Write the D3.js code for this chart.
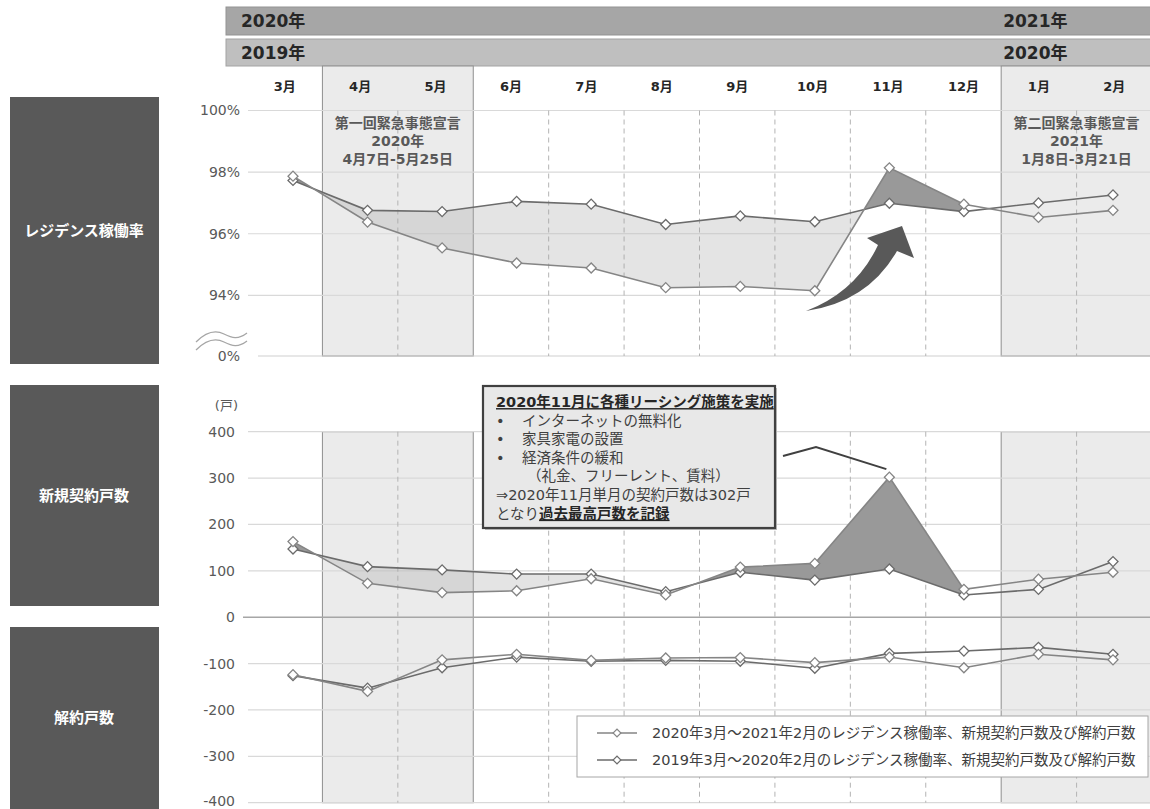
<!DOCTYPE html>
<html><head><meta charset="utf-8">
<script src="https://cdn.jsdelivr.net/npm/d3@7"></script>
<style>
html,body{margin:0;padding:0;background:#fff;}
svg{display:block;}
</style></head>
<body>
<script>
// ---------- DATA ----------
const months = ["3月","4月","5月","6月","7月","8月","9月","10月","11月","12月","1月","2月"];
const occ2020 = [97.87, 96.38, 95.54, 95.05, 94.89, 94.25, 94.29, 94.15, 98.14, 96.96, 96.53, 96.76];
const occ2019 = [97.73, 96.76, 96.72, 97.05, 96.96, 96.30, 96.58, 96.39, 96.99, 96.72, 97.00, 97.26];
const new2020 = [163, 73, 53, 57, 83, 48, 108, 116, 302, 60, 82, 97];
const new2019 = [147, 109, 102, 93, 93, 55, 97, 80, 104, 48, 60, 120];
const cancel2020 = [-124, -160, -92, -80, -93, -88, -87, -98, -86, -109, -80, -92];
const cancel2019 = [-126, -153, -109, -86, -95, -93, -95, -110, -78, -73, -65, -80];
const occTicks = [0, 94, 96, 98, 100];
const cntTicks = [400, 300, 200, 100, 0, -100, -200, -300, -400];
const sectionLabels = ["レジデンス稼働率", "新規契約戸数", "解約戸数"];
const legendLabels = ["2020年3月～2021年2月のレジデンス稼働率、新規契約戸数及び解約戸数",
                      "2019年3月～2020年2月のレジデンス稼働率、新規契約戸数及び解約戸数"];
const decl1 = ["第一回緊急事態宣言", "2020年", "4月7日-5月25日"];
const decl2 = ["第二回緊急事態宣言", "2021年", "1月8日-3月21日"];
const noteLines = ["•", "インターネットの無料化", "家具家電の設置", "経済条件の緩和"];

// ---------- SETUP ----------
const W = 1150, H = 809;
const NUM = "'DejaVu Sans','Noto Sans CJK JP',sans-serif";
const JP = "'Noto Sans CJK JP',sans-serif";
const svg = d3.select("body").append("svg").attr("width", W).attr("height", H);

const x = d3.scalePoint().domain(months).range([293, 1113]);
const col = d3.scaleBand().domain(months).range([247, 1152]);
const bw = col.bandwidth();
const yTop = d3.scaleLinear().domain([0, 93, 100]).range([356, 326.2, 110.5]);
const yMid = d3.scaleLinear().domain([-400, 400]).range([802.7, 431.7]);

// ---------- LEFT SECTION BOXES ----------
const boxes = [[97, 364], [385, 606], [627, 812]];
boxes.forEach((b, i) => {
  svg.append("rect").attr("x", 10).attr("y", b[0]).attr("width", 149).attr("height", b[1] - b[0]).attr("fill", "#595959");
  svg.append("text").attr("x", 84).attr("y", (b[0] + Math.min(b[1], 808)) / 2).attr("dy", "0.35em")
    .attr("text-anchor", "middle").attr("font-family", JP).attr("font-size", 15).attr("font-weight", "bold")
    .attr("fill", "#fff").text(sectionLabels[i]);
});

// ---------- HEADER BARS ----------
svg.append("rect").attr("x", 226).attr("y", 7).attr("width", 926).attr("height", 28).attr("fill", "#a6a6a6").attr("stroke", "#939393");
svg.append("rect").attr("x", 226).attr("y", 39).attr("width", 926).attr("height", 27).attr("fill", "#bfbfbf").attr("stroke", "#a3a3a3");
const hdr = (tx, ty, s) => svg.append("text").attr("x", tx).attr("y", ty).attr("dy", "0.36em")
  .attr("font-family", NUM).attr("font-size", 17).attr("font-weight", "bold").attr("fill", "#262626").text(s);
hdr(241, 21, "2020年"); hdr(241, 53, "2019年");
hdr(col("1月") + 2, 21, "2021年"); hdr(col("1月") + 2, 53, "2020年");

// ---------- SHADED BANDS ----------
const bandStyle = s => s.attr("fill", "#ebebeb").attr("stroke", "#8f8f8f").attr("stroke-width", 1);
[["4月", 2], ["1月", 2]].forEach(([m, n]) => {
  bandStyle(svg.append("rect").attr("x", col(m)).attr("y", 66).attr("width", bw * n).attr("height", yTop(0) - 66));
  bandStyle(svg.append("rect").attr("x", col(m)).attr("y", yMid(400)).attr("width", bw * n).attr("height", yMid(-400) - yMid(400)));
});

// month labels
svg.append("g").selectAll("text").data(months).join("text")
  .attr("x", d => col(d) + bw / 2).attr("y", 86).attr("dy", "0.35em").attr("text-anchor", "middle")
  .attr("font-family", NUM).attr("font-size", 13).attr("font-weight", "bold").attr("fill", "#262626").text(d => d);

// ---------- GRIDLINES ----------
const gridTop = svg.append("g");
occTicks.forEach(v => {
  gridTop.append("line").attr("x1", v === 0 ? 258 : 248).attr("x2", 1150).attr("y1", yTop(v)).attr("y2", yTop(v))
    .attr("stroke", v === 0 ? "#cfcfcf" : "#d9d9d9").attr("stroke-width", 1.2);
});
cntTicks.forEach(v => {
  gridTop.append("line").attr("x1", v === 0 ? 243 : 248).attr("x2", 1150).attr("y1", yMid(v)).attr("y2", yMid(v))
    .attr("stroke", v === 0 ? "#a6a6a6" : "#d9d9d9").attr("stroke-width", v === 0 ? 1.6 : 1.2);
});

// dashed verticals
const bandEdges = ["4月", "6月", "1月"];
months.slice(1).forEach(m => {
  if (bandEdges.includes(m)) return;
  [[yTop(100), yTop(0)], [yMid(400), yMid(-400)]].forEach(([a, b]) => {
    svg.append("line").attr("x1", col(m)).attr("x2", col(m)).attr("y1", a).attr("y2", b)
      .attr("stroke", "#b3b3b3").attr("stroke-width", 1).attr("stroke-dasharray", "5,4");
  });
});

// ---------- AXES LABELS ----------
const axTop = svg.append("g").attr("transform", "translate(240,0)")
  .call(d3.axisLeft(yTop).tickValues(occTicks).tickSize(0).tickPadding(0).tickFormat(d => d + "%"));
const axMid = svg.append("g").attr("transform", "translate(235,0)")
  .call(d3.axisLeft(yMid).tickValues(cntTicks).tickSize(0).tickPadding(0).tickFormat(d => String(d)));
[axTop, axMid].forEach(a => {
  a.select(".domain").remove();
  a.selectAll("text").attr("font-family", NUM).attr("font-size", 14).attr("fill", "#595959");
});
axMid.selectAll("text").filter(d => d === -400).attr("dy", "0.2em");
svg.append("text").attr("x", 238).attr("y", 405).attr("dy", "0.35em").attr("text-anchor", "end")
  .attr("font-family", NUM).attr("font-size", 13).attr("fill", "#595959").text("(戸)");

// axis break
[0, 8].forEach(o => {
  svg.append("path").attr("d", `M196,${342 + o} C206,${332 + o} 216,${330 + o} 224,${334 + o} S238,${340 + o} 247,${333 + o}`)
    .attr("fill", "none").attr("stroke", "#a6a6a6").attr("stroke-width", 1.3);
});

// ---------- FILLS BETWEEN SERIES ----------
function drawFill(id, y, a20, a19, n) {
  const idx = d3.range(n);
  const defs = svg.append("defs");
  defs.append("clipPath").attr("id", id + "below").append("path")
    .attr("d", d3.area().x(i => x(months[i])).y0(() => 2000).y1(i => y(a19[i]))(idx));
  defs.append("clipPath").attr("id", id + "above").append("path")
    .attr("d", d3.area().x(i => x(months[i])).y0(() => -2000).y1(i => y(a19[i]))(idx));
  const ar = d3.area().x(i => x(months[i])).y0(i => y(a19[i])).y1(i => y(a20[i]));
  svg.append("path").attr("d", ar(idx)).attr("clip-path", `url(#${id}below)`)
    .attr("fill", "#a6a6a6").attr("fill-opacity", 0.3);
  svg.append("path").attr("d", ar(idx)).attr("clip-path", `url(#${id}above)`)
    .attr("fill", "#999999");
}
drawFill("occ", yTop, occ2020, occ2019, 10);
drawFill("new", yMid, new2020, new2019, 10);

// ---------- LINES + MARKERS ----------
const c20 = "#858585", c19 = "#6b6b6b";
const diamond = d3.symbol(d3.symbolSquare, 50)();
function series(vals, y, color) {
  const ln = d3.line().x((d, i) => x(months[i])).y(d => y(d));
  svg.append("path").attr("d", ln(vals)).attr("fill", "none").attr("stroke", color).attr("stroke-width", 1.6);
  svg.append("g").selectAll("path").data(vals).join("path").attr("d", diamond)
    .attr("transform", (d, i) => `translate(${x(months[i])},${y(d)}) rotate(45)`)
    .attr("fill", "#fff").attr("stroke", color).attr("stroke-width", 1.3);
}
series(occ2019, yTop, c19); series(occ2020, yTop, c20);
series(new2019, yMid, c19); series(new2020, yMid, c20);
series(cancel2019, yMid, c19); series(cancel2020, yMid, c20);

// ---------- DECLARATION LABELS ----------
function decl(lines, cx) {
  lines.forEach((s, i) => svg.append("text").attr("x", cx).attr("y", 123 + i * 18).attr("dy", "0.35em")
    .attr("text-anchor", "middle").attr("font-family", NUM).attr("font-size", 14).attr("font-weight", "bold")
    .attr("fill", "#595959").text(s));
}
decl(decl1, col("4月") + bw);
decl(decl2, col("1月") + bw);

// ---------- CURVED ARROW ----------
svg.append("path")
  .attr("d", "M806,311 Q856,292 878,245 L867,238 L902,226 L914,258 L897,251 Q868,302 806,311 Z")
  .attr("fill", "#595959");

// ---------- CALLOUT BOX ----------
const bx = 483, by = 386;
svg.append("rect").attr("x", bx + 2).attr("y", by + 2).attr("width", 292).attr("height", 142).attr("fill", "#bdbdbd");
svg.append("rect").attr("x", bx).attr("y", by).attr("width", 292).attr("height", 142)
  .attr("fill", "#e8e8e8").attr("stroke", "#404040").attr("stroke-width", 2.2);
const nt = (tx, ty) => svg.append("text").attr("x", tx).attr("y", ty).attr("dy", "0.35em")
  .attr("font-family", NUM).attr("font-size", 14.5).attr("fill", "#404040");
nt(496, 402).attr("font-weight", "bold").attr("fill", "#262626").style("text-decoration", "underline")
  .text("2020年11月に各種リーシング施策を実施");
[1, 2, 3].forEach(k => {
  nt(496, 402 + k * 18.6).text(noteLines[0]);
  nt(522, 402 + k * 18.6).text(noteLines[k]);
});
nt(527, 402 + 4 * 18.6).text("（礼金、フリーレント、賃料）");
nt(496, 402 + 5 * 18.6).text("⇒2020年11月単月の契約戸数は302戸");
const last = nt(496, 402 + 6 * 18.6);
last.append("tspan").text("となり");
last.append("tspan").attr("font-weight", "bold").attr("fill", "#262626").style("text-decoration", "underline").text("過去最高戸数を記録");

// leader line to Nov peak
svg.append("path")
  .attr("d", d3.line()([[bx + 300, 456], [816, 447], [x("11月") - 3, yMid(new2020[8]) - 8]]))
  .attr("fill", "none").attr("stroke", "#404040").attr("stroke-width", 2);

// ---------- LEGEND ----------
svg.append("rect").attr("x", 577).attr("y", 716).attr("width", 571).attr("height", 61)
  .attr("fill", "#fff").attr("stroke", "#a6a6a6").attr("stroke-width", 1);
[[c20, 733], [c19, 760]].forEach(([c, ly], i) => {
  svg.append("line").attr("x1", 597).attr("x2", 637).attr("y1", ly).attr("y2", ly).attr("stroke", c).attr("stroke-width", 1.6);
  svg.append("path").attr("d", d3.symbol(d3.symbolSquare, 30)()).attr("transform", `translate(617,${ly}) rotate(45)`)
    .attr("fill", "#fff").attr("stroke", c).attr("stroke-width", 1.2);
  svg.append("text").attr("x", 652).attr("y", ly).attr("dy", "0.35em").attr("font-family", NUM)
    .attr("font-size", 14.5).attr("fill", "#404040").text(legendLabels[i]);
});
</script>
</body></html>
